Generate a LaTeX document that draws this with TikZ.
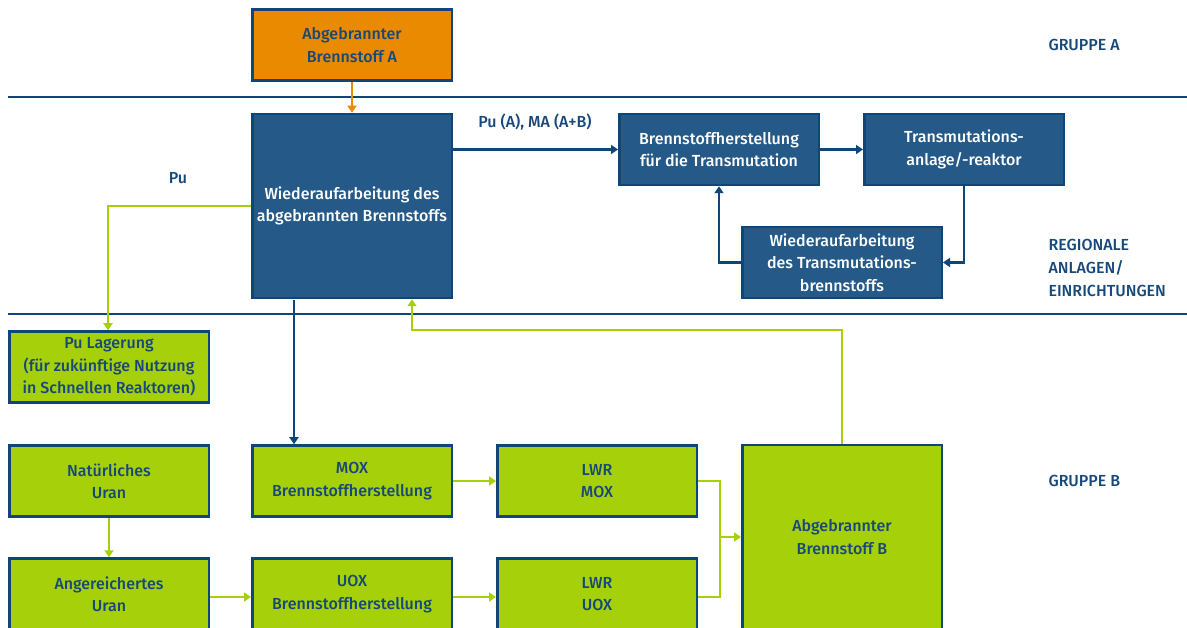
\documentclass[tikz,border=0pt]{standalone}
\usepackage{fontspec}
\setmainfont{Fira Sans}[UprightFont={* Medium}]
\usetikzlibrary{arrows.meta, positioning, calc}

\definecolor{orangeA}{HTML}{EA8A00}
\definecolor{blueBox}{HTML}{255A88}
\definecolor{blueLine}{HTML}{0F4579}
\definecolor{greenBox}{HTML}{A6D00A}
\definecolor{blueText}{HTML}{17487A}

\tikzset{
  box/.style={draw=blueLine, line width=2.5pt, minimum width=199.5pt,
    minimum height=71pt, align=center, inner sep=2pt,
    font=\fontsize{16}{22.5}\selectfont},
  bluebox/.style={box, fill=blueBox, text=white},
  greenbox/.style={box, fill=greenBox, text=blueText},
  orangebox/.style={box, fill=orangeA, text=blueText},
  grplabel/.style={anchor=west, align=left, text=blueText,
    font=\fontsize{16}{23}\selectfont},
  flowlabel/.style={text=blueText, font=\fontsize{16}{22}\selectfont},
  sepline/.style={blueLine, line width=2.5pt},
  bluearrow/.style={blueLine, line width=2.4pt, -{Triangle[width=9pt,length=7pt]}},
  greenarrow/.style={greenBox, line width=2.4pt, -{Triangle[width=9pt,length=7pt]}},
  orangearrow/.style={orangeA, line width=2.4pt, -{Triangle[width=9pt,length=7pt]}}
}

\begin{document}
\begin{tikzpicture}[x=1pt, y=-1pt]
  \useasboundingbox (0,0) rectangle (1187,628);
  % group separators
  \draw[sepline] (8,97) -- (1187,97);
  \draw[sepline] (8,314) -- (1187,314);
  % group labels
  \node[grplabel] (grpA) at (1045,45) {GRUPPE A};
  \node[grplabel] (grpR) at (1045,268) {REGIONALE\\ANLAGEN/\\EINRICHTUNGEN};
  \node[grplabel] (grpB) at (1045,481) {GRUPPE B};
  % group A
  \node[orangebox] (brA) at (352,45) {Abgebrannter\\Brennstoff A};
  % regional facilities
  \node[bluebox, minimum height=184pt] (wiederA) at (352,206)
    {Wiederaufarbeitung des\\abgebrannten Brennstoffs};
  \node[bluebox] (herst) at (719,149.5) {Brennstoffherstellung\\f\"ur die Transmutation};
  \node[bluebox] (transm) at (964,149.5) {Transmutations-\\anlage/-reaktor};
  \node[bluebox] (wiederT) at (842,262.5)
    {Wiederaufarbeitung\\des Transmutations-\\brennstoffs};
  % group B
  \node[greenbox] (lager) at (109,367)
    {Pu Lagerung\\(f\"ur zuk\"unftige Nutzung\\in Schnellen Reaktoren)};
  \node[greenbox] (natur) at (109,481) {Nat\"urliches\\Uran};
  \node[greenbox] (anger) at (109,594) {Angereichertes\\Uran};
  \node[greenbox] (moxh) at (352,481) {MOX\\Brennstoffherstellung};
  \node[greenbox] (uoxh) at (352,594) {UOX\\Brennstoffherstellung};
  \node[greenbox] (lwrmox) at (597,481) {LWR\\MOX};
  \node[greenbox] (lwruox) at (597,594) {LWR\\UOX};
  \node[greenbox, minimum height=184pt] (brB) at (842,537) {Abgebrannter\\Brennstoff B};
  % flows
  \draw[orangearrow] (brA) -- (wiederA);
  \draw[bluearrow] (wiederA.east |- herst) -- (herst);
  \node[flowlabel] (puma) at (535,122) {Pu (A), MA (A+B)};
  \draw[bluearrow] (herst) -- (transm);
  \draw[bluearrow] (transm.south) |- (wiederT.east);
  \draw[bluearrow] (wiederT.west) -| (herst.south);
  \coordinate (puturn) at (108,206);
  \draw[greenarrow] (wiederA.west |- puturn) -- (puturn) -- (lager.north -| puturn);
  \node[flowlabel] (pulabel) at (178,178) {Pu};
  \coordinate (moxdown) at (294,300);
  \draw[bluearrow] (moxdown) -- (moxh.north -| moxdown);
  \coordinate (backB) at (842,330);
  \coordinate (backW) at (412,330);
  \draw[greenarrow] (brB.north) -- (backB) -- (backW) -- (wiederA.south -| backW);
  \draw[greenarrow] (natur) -- (anger);
  \draw[greenarrow] (anger.east |- 0,597) -- (uoxh.west |- 0,597);
  \draw[greenarrow] (moxh) -- (lwrmox);
  \draw[greenarrow] (uoxh.east |- 0,597) -- (lwruox.west |- 0,597);
  \coordinate (merge) at (720,537);
  \draw[greenBox, line width=2.4pt] (lwrmox.east) -| (merge);
  \draw[greenBox, line width=2.4pt] (lwruox.east |- 0,597) -| (merge);
  \draw[greenarrow] (merge) -- (brB.west |- merge);
\end{tikzpicture}
\end{document}
